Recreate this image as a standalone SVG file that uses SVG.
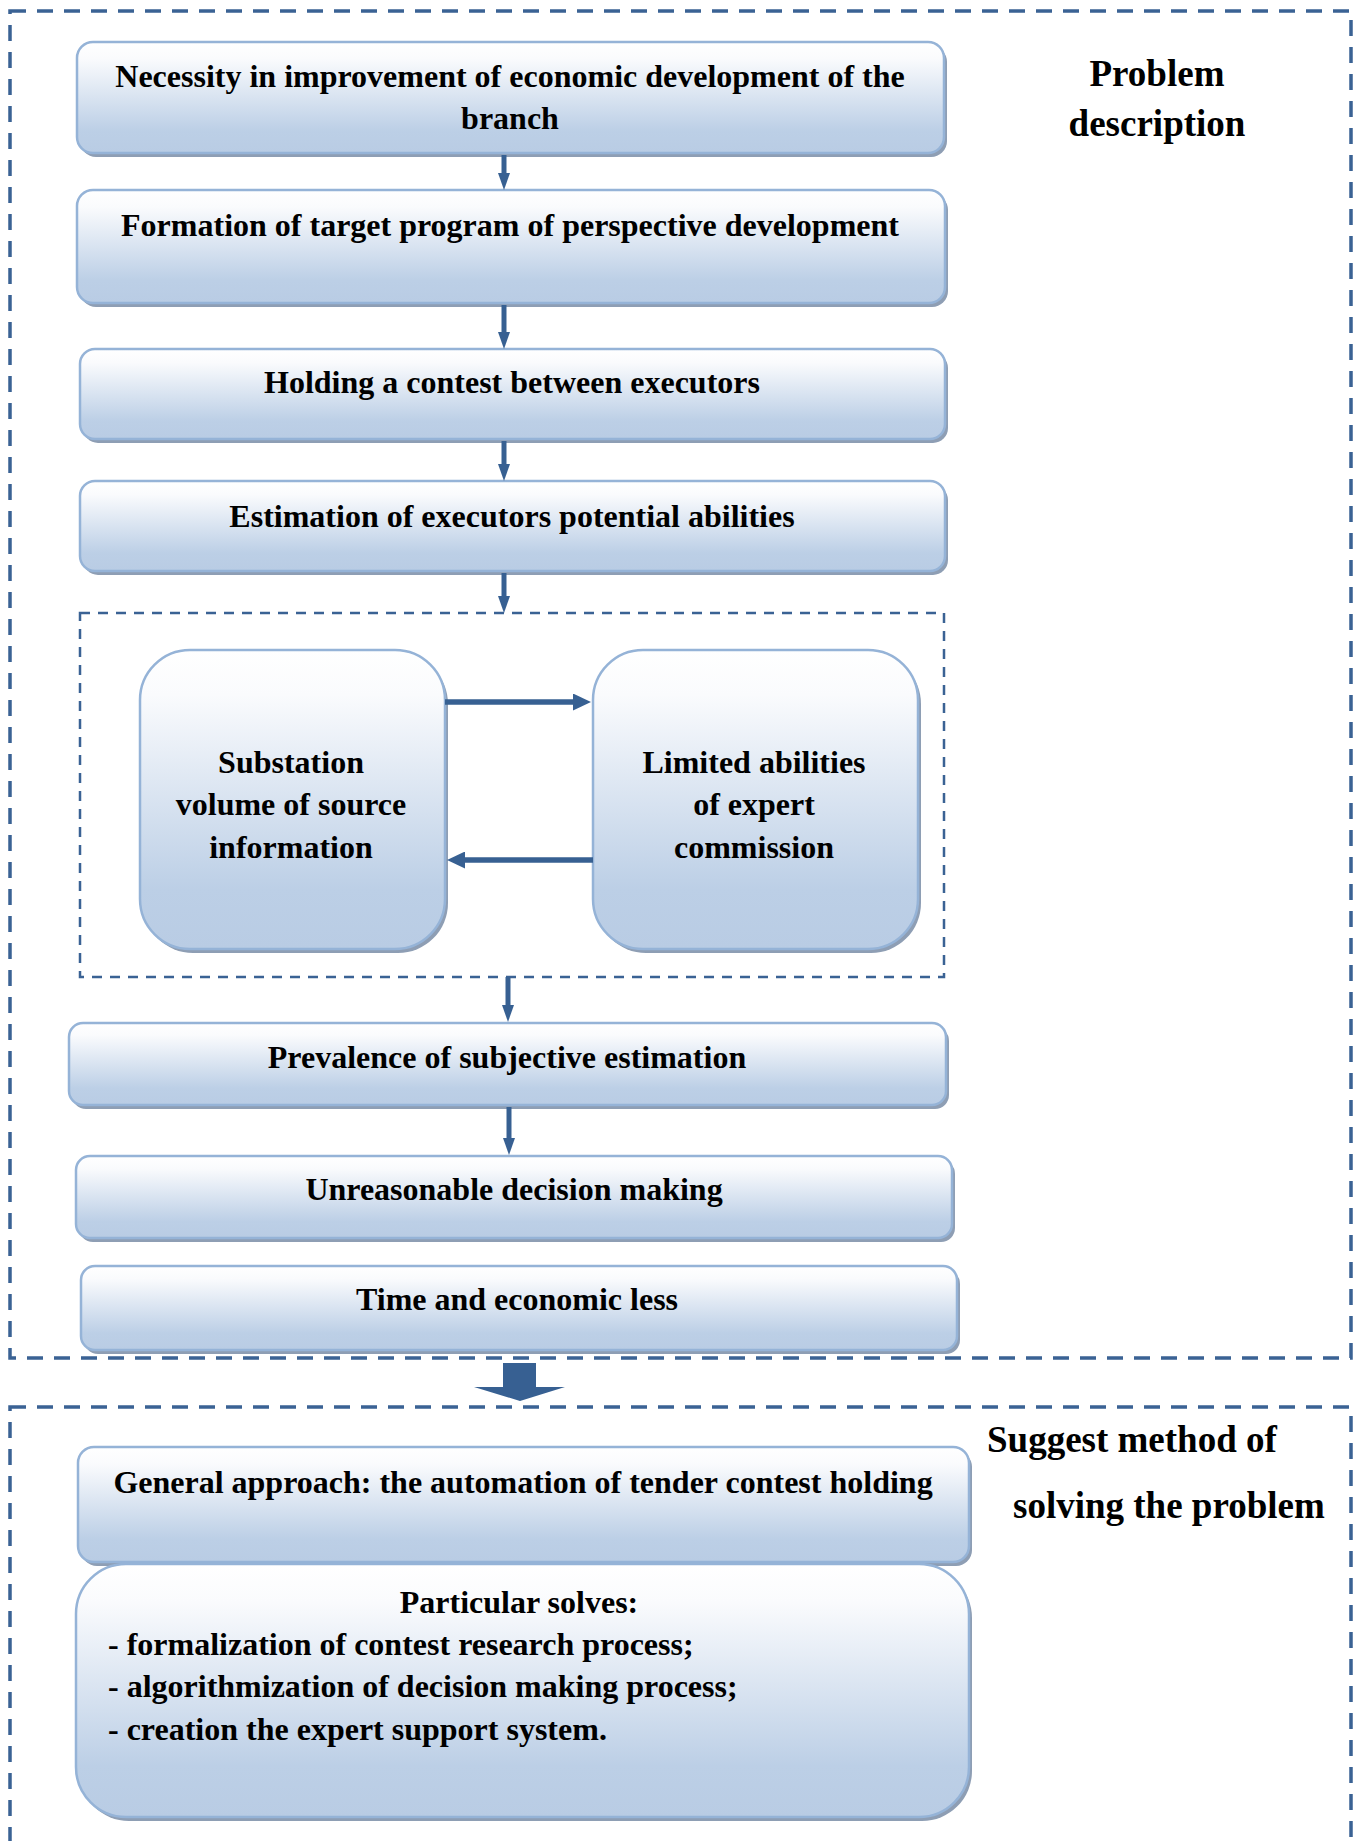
<svg xmlns="http://www.w3.org/2000/svg" width="1357" height="1841" viewBox="0 0 1357 1841">
<defs>
<linearGradient id="g" x1="0" y1="0" x2="0" y2="1">
<stop offset="0" stop-color="#ffffff"/>
<stop offset="0.15" stop-color="#fafbfd"/>
<stop offset="0.8" stop-color="#bccfe6"/>
<stop offset="1" stop-color="#b9cce4"/>
</linearGradient>
<marker id="av" markerUnits="userSpaceOnUse" markerWidth="17" markerHeight="12" refX="3" refY="6" orient="auto">
<path d="M0,0 L17,6 L0,12 z" fill="#376092"/>
</marker>
<marker id="ah" markerUnits="userSpaceOnUse" markerWidth="18" markerHeight="17" refX="3" refY="8.5" orient="auto">
<path d="M0,0 L18,8.5 L0,17 z" fill="#376092"/>
</marker>
</defs>
<style>
.sh{fill:#8e9eb4}
.bx{fill:url(#g);stroke:#95b3d7;stroke-width:2.5}
.t{font-family:"Liberation Serif","Times New Roman",serif;font-weight:bold;font-size:32px;fill:#000;text-anchor:middle}
.tl{font-family:"Liberation Serif","Times New Roman",serif;font-weight:bold;font-size:32px;fill:#000}
.lab{font-family:"Liberation Serif","Times New Roman",serif;font-weight:bold;font-size:37px;fill:#000}
.od{fill:none;stroke:#3a6294;stroke-width:3.5;stroke-dasharray:16 11}
.id{fill:none;stroke:#3a6294;stroke-width:2.5;stroke-dasharray:10 8}
.cv{stroke:#376092;stroke-width:5;fill:none}
.ch{stroke:#376092;stroke-width:5.5;fill:none}
</style>

<g id="frames">
<rect class="od" x="10" y="11" width="1341" height="1347"/>
<rect class="od" x="10" y="1407" width="1341" height="470"/>
<rect class="id" x="80" y="613" width="864" height="364"/>
</g>

<g id="labels">
<text class="lab" x="1157" y="86" text-anchor="middle">Problem</text>
<text class="lab" x="1157" y="136" text-anchor="middle">description</text>
<text class="lab" x="987" y="1452">Suggest method of</text>
<text class="lab" x="1013" y="1518">solving the problem</text>
</g>

<g id="n1">
<rect class="sh" x="80" y="46" width="867" height="111" rx="16"/>
<rect class="bx" x="77" y="42" width="867" height="111" rx="16"/>
<text class="t" x="510" y="87">Necessity in improvement of economic development of the</text>
<text class="t" x="510" y="129">branch</text>
</g>

<g id="n2">
<rect class="sh" x="80" y="194" width="868" height="113" rx="16"/>
<rect class="bx" x="77" y="190" width="868" height="113" rx="16"/>
<text class="t" x="510" y="236">Formation of target program of perspective development</text>
</g>

<g id="n3">
<rect class="sh" x="83" y="353" width="865" height="90" rx="15"/>
<rect class="bx" x="80" y="349" width="865" height="90" rx="15"/>
<text class="t" x="512" y="393">Holding a contest between executors</text>
</g>

<g id="n4">
<rect class="sh" x="83" y="485" width="865" height="90" rx="15"/>
<rect class="bx" x="80" y="481" width="865" height="90" rx="15"/>
<text class="t" x="512" y="527">Estimation of executors potential abilities</text>
</g>

<g id="n5">
<rect class="sh" x="143" y="654" width="305" height="299" rx="50"/>
<rect class="bx" x="140" y="650" width="305" height="299" rx="50"/>
<text class="t" x="291" y="773">Substation</text>
<text class="t" x="291" y="815">volume of source</text>
<text class="t" x="291" y="858">information</text>
</g>

<g id="n6">
<rect class="sh" x="596" y="654" width="325" height="299" rx="50"/>
<rect class="bx" x="593" y="650" width="325" height="299" rx="50"/>
<text class="t" x="754" y="773">Limited abilities</text>
<text class="t" x="754" y="815">of expert</text>
<text class="t" x="754" y="858">commission</text>
</g>

<g id="n7">
<rect class="sh" x="72" y="1027" width="877" height="82" rx="14"/>
<rect class="bx" x="69" y="1023" width="877" height="82" rx="14"/>
<text class="t" x="507" y="1068">Prevalence of subjective estimation</text>
</g>

<g id="n8">
<rect class="sh" x="79" y="1160" width="876" height="82" rx="14"/>
<rect class="bx" x="76" y="1156" width="876" height="82" rx="14"/>
<text class="t" x="514" y="1200">Unreasonable decision making</text>
</g>

<g id="n9">
<rect class="sh" x="84" y="1270" width="876" height="84" rx="14"/>
<rect class="bx" x="81" y="1266" width="876" height="84" rx="14"/>
<text class="t" x="517" y="1310">Time and economic less</text>
</g>

<g id="n10">
<rect class="sh" x="81" y="1451" width="891" height="115" rx="16"/>
<rect class="bx" x="78" y="1447" width="891" height="115" rx="16"/>
<text class="t" x="523" y="1493">General approach: the automation of tender contest holding</text>
</g>

<g id="n11">
<rect class="sh" x="79" y="1568" width="893" height="253" rx="50"/>
<rect class="bx" x="76" y="1564" width="893" height="253" rx="50"/>
<text class="t" x="519" y="1613">Particular solves:</text>
<text class="tl" x="108" y="1655">- formalization of contest research process;</text>
<text class="tl" x="108" y="1697">- algorithmization of decision making process;</text>
<text class="tl" x="108" y="1740">- creation the expert support system.</text>
</g>

<g id="connectors">
<line class="cv" x1="504" y1="155" x2="504" y2="176" marker-end="url(#av)"/>
<line class="cv" x1="504" y1="305" x2="504" y2="335" marker-end="url(#av)"/>
<line class="cv" x1="504" y1="441" x2="504" y2="467" marker-end="url(#av)"/>
<line class="cv" x1="504" y1="573" x2="504" y2="599" marker-end="url(#av)"/>
<line class="ch" x1="445" y1="702" x2="576" y2="702" marker-end="url(#ah)"/>
<line class="ch" x1="593" y1="860" x2="462" y2="860" marker-end="url(#ah)"/>
<line class="cv" x1="508" y1="977" x2="508" y2="1008" marker-end="url(#av)"/>
<line class="cv" x1="509" y1="1107" x2="509" y2="1141" marker-end="url(#av)"/>
<polygon points="503,1363 536,1363 536,1387 565,1387 520,1401 474,1387 503,1387" fill="#376092"/>
</g>
</svg>
